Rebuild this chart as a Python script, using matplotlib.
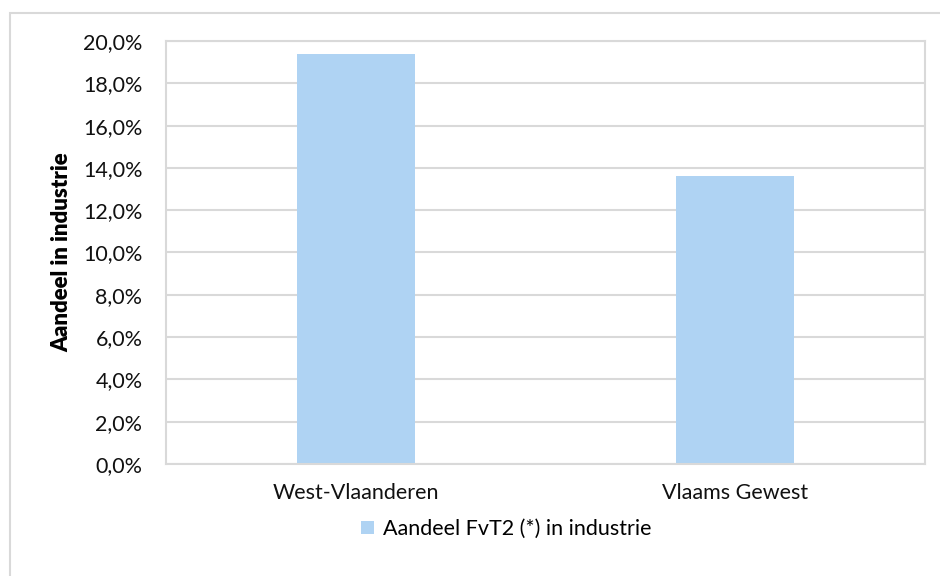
import numpy as np
import matplotlib
matplotlib.use("Agg")
import matplotlib.pyplot as plt
from matplotlib.patches import Rectangle
from matplotlib.ticker import FuncFormatter

plt.rcParams['font.family'] = ['Lato', 'DejaVu Sans']

# data
categories = ["West-Vlaanderen", "Vlaams Gewest"]
aandeel = [19.4, 13.6]
series_label = "Aandeel FvT2 (*) in industrie"

bar_color = "#afd3f3"
grid_color = "#d9d9d9"

fig = plt.figure(figsize=(9.4, 5.76), dpi=100)
ax = fig.add_axes([166 / 940, 1 - 464 / 576, 759 / 940, 423 / 576])

x = np.arange(len(categories))
ax.bar(x, aandeel, width=0.31, color=bar_color, label=series_label, zorder=2)

ax.set_xlim(-0.5, len(categories) - 0.5)
ax.set_ylim(0, 20)
ax.set_yticks(np.arange(0, 21, 2))
ax.yaxis.set_major_formatter(FuncFormatter(lambda v, p: f"{v:.1f}%".replace(".", ",")))
ax.set_xticks(x)
ax.set_xticklabels(categories)
ax.tick_params(axis="both", length=0, labelsize=15.5, colors="#111111")
ax.tick_params(axis="x", pad=14)
ax.tick_params(axis="y", pad=17)

ax.grid(axis="y", color=grid_color, linewidth=1.5, zorder=0)
ax.set_axisbelow(True)
for s in ax.spines.values():
    s.set_color(grid_color)
    s.set_linewidth(1.5)

ax.set_ylabel("Aandeel in industrie", fontsize=16, fontweight="heavy")
ax.yaxis.set_label_coords(-0.124, 0.5)

fig.legend(loc="center", bbox_to_anchor=(506 / 940, 1 - 529 / 576), frameon=False,
           fontsize=15.5, handlelength=0.6, handleheight=0.6, handletextpad=0.4)

# chart area border
fig.patches.append(Rectangle((9.5 / 940, 0 - 0.05), 1.2, 1 - 13 / 576 + 0.05,
                             transform=fig.transFigure, fill=False,
                             edgecolor=grid_color, linewidth=1.5))

fig.savefig("out.png", dpi=100)
